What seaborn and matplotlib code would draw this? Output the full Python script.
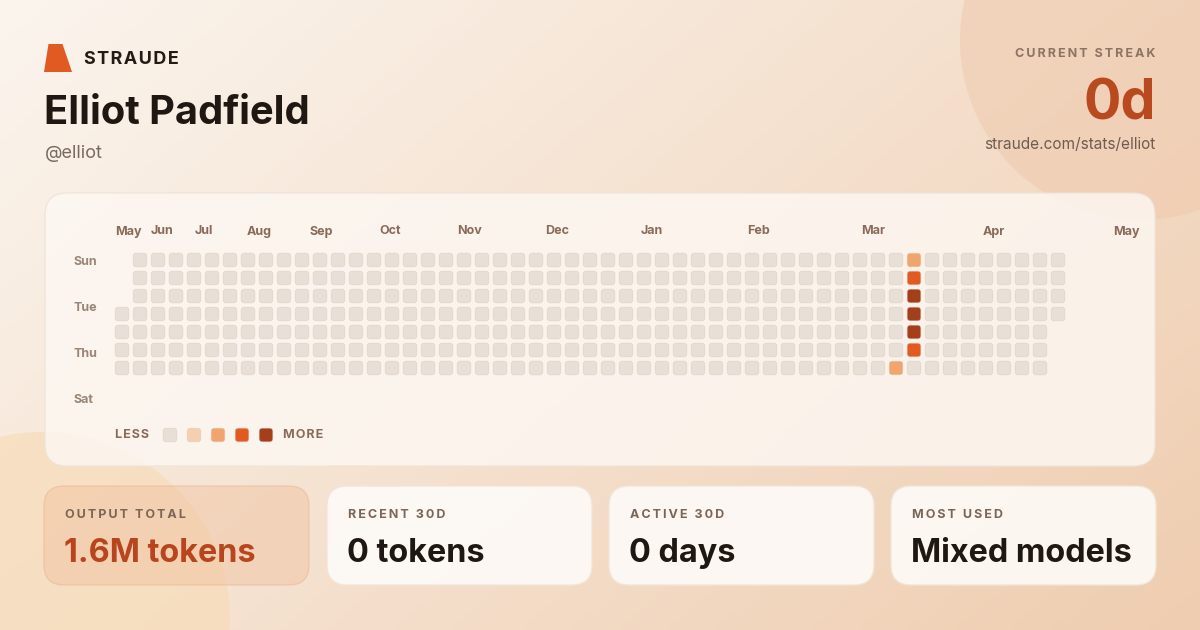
import numpy as np
import pandas as pd
import matplotlib.pyplot as plt
import seaborn as sns
from matplotlib.patches import FancyBboxPatch, Circle, Polygon, BoxStyle
from matplotlib.colors import to_rgb

# ============================================
# Data
# ============================================
n_weeks = 53
first_week_first_day = 3   # first column starts on Wed
last_week_last_day = 3     # last column ends on Wed

active_weeks = [43, 44, 44, 44, 44, 44, 44]
active_days = [6, 0, 1, 2, 3, 4, 5]
active_levels = [2, 2, 3, 4, 4, 4, 3]

level_colors = {0: "#E8E0D6", 1: "#F6CFB1", 2: "#F0A46E", 3: "#E05A22", 4: "#A53E1B"}
legend_levels = [0, 1, 2, 3, 4]

month_labels = ["May", "Jun", "Jul", "Aug", "Sep", "Oct", "Nov", "Dec",
                "Jan", "Feb", "Mar", "Apr", "May"]
day_labels = ["Sun", "Tue", "Thu", "Sat"]

user_name = "Elliot Padfield"
user_handle = "@elliot"
streak_days = 0
profile_url = "straude.com/stats/elliot"

card_labels = ["OUTPUT TOTAL", "RECENT 30D", "ACTIVE 30D", "MOST USED"]
card_values = ["1.6M tokens", "0 tokens", "0 days", "Mixed models"]

# layout (pixels)
month_label_px = [115, 151, 195, 247, 309, 379, 457, 545, 641, 747, 861, 983, 1113]
card_left_px = [44, 327, 609, 891]


def spaced(s, gap="\u2009"):
    return gap.join(s)


# ============================================
# Build cell table
# ============================================
rows = []
for w in range(n_weeks):
    for d in range(7):
        if w == 0 and d < first_week_first_day:
            continue
        if w == n_weeks - 1 and d > last_week_last_day:
            continue
        rows.append({"week": w, "day": d, "level": 0})
cells = pd.DataFrame(rows)
for w, d, lv in zip(active_weeks, active_days, active_levels):
    cells.loc[(cells.week == w) & (cells.day == d), "level"] = lv

# ============================================
# Figure
# ============================================
sns.set_style("white")
plt.rcParams["font.family"] = ["Inter", "DejaVu Sans"]

W, H = 1200, 630
fig = plt.figure(figsize=(12, 6.3), dpi=100)
bg = fig.add_axes([0, 0, 1, 1])
bg.set_xlim(0, W)
bg.set_ylim(H, 0)
bg.axis("off")

# gradient background
gx, gy = np.meshgrid(np.linspace(0, 1, 300), np.linspace(0, 1, 160))
t = np.clip(0.62 * gx + 0.38 * gy, 0, 1)[..., None]
c0 = np.array(to_rgb("#FBF5EE"))
c1 = np.array(to_rgb("#EFCDB0"))
bg.imshow(c0 * (1 - t) + c1 * t, extent=[0, W, H, 0], aspect="auto", zorder=0)

bg.add_patch(Circle((1140, 40), 180, facecolor="#EFC9AD", alpha=0.55, lw=0, zorder=1))
bg.add_patch(Circle((42, 620), 188, facecolor="#F7DCBA", alpha=0.7, lw=0, zorder=1))

# heatmap panel
bg.add_patch(FancyBboxPatch((45, 193), 1110, 273, boxstyle="round,pad=0,rounding_size=22",
                            facecolor="#FDF8F3", alpha=0.82, edgecolor="#EFE3D8", lw=1, zorder=2))

# stat cards
for i, x0 in enumerate(card_left_px):
    if i == 0:
        fc, ec, a = "#F0BE9A", "#EAAE88", 0.42
    else:
        fc, ec, a = "#FEFBF8", "#F2E4D8", 0.9
    bg.add_patch(FancyBboxPatch((x0, 486), 265, 99, boxstyle="round,pad=0,rounding_size=20",
                                facecolor=fc, alpha=a, edgecolor=ec, lw=1, zorder=2))
    bg.text(x0 + 21, 518, spaced(card_labels[i]), fontsize=9, fontweight="bold",
            color="#7A6556", va="baseline", zorder=3)
    bg.text(x0 + 20, 562, card_values[i], fontsize=23.3, fontweight="bold",
            color="#B8451E" if i == 0 else "#1E1712", va="baseline", zorder=3)

# header
bg.add_patch(Polygon([(44, 72), (72, 72), (62.5, 44), (48.5, 44)], closed=True,
                     facecolor="#E05A22", lw=0, zorder=3))
bg.text(84, 64, spaced("STRAUDE", "\u200a"), fontsize=13, fontweight="bold",
        color="#241B15", va="baseline", zorder=3)
bg.text(44, 124, user_name, fontsize=28.7, fontweight="bold", color="#1E1712",
        va="baseline", zorder=3)
bg.text(45, 158, user_handle, fontsize=13, color="#7A6A5E", va="baseline", zorder=3)

bg.text(1155, 57, spaced("CURRENT STREAK"), fontsize=9, fontweight="bold",
        color="#8C7363", ha="right", va="baseline", zorder=3)
bg.text(1156, 120, f"{streak_days}d", fontsize=40, fontweight="bold", color="#B94A1F",
        ha="right", va="baseline", zorder=3)
bg.text(1155, 149, profile_url, fontsize=11.1, color="#6E5D52", ha="right",
        va="baseline", zorder=3)

# month & day labels
for lab, px in zip(month_labels, month_label_px):
    bg.text(px, 234.5, lab, fontsize=9, fontweight="bold", color="#8A6A58",
            va="baseline", zorder=3)
for i, lab in enumerate(day_labels):
    bg.text(73, 262 + 46 * i, lab, fontsize=9, fontweight="bold", color="#9A8576",
            va="center", zorder=3)

# ============================================
# Heatmap cells
# ============================================
rounded = BoxStyle("Round", pad=0, rounding_size=0.22)(-0.5, -0.5, 1, 1, 1.0)

hax = fig.add_axes([113 / W, 1 - 377 / H, 954 / W, 126 / H])
hax.set_xlim(-0.5, n_weeks - 0.5)
hax.set_ylim(6.5, -0.5)
hax.axis("off")
hax.patch.set_alpha(0)
sns.scatterplot(data=cells, x="week", y="day", hue="level", palette=level_colors,
                hue_order=legend_levels, marker=rounded, s=98, edgecolor="#DDD2C6",
                linewidth=0.4, legend=False, ax=hax)

# legend swatches
leg = pd.DataFrame({"x": [170 + 24 * i for i in range(len(legend_levels))],
                    "y": [435] * len(legend_levels), "level": legend_levels})
sns.scatterplot(data=leg, x="x", y="y", hue="level", palette=level_colors,
                hue_order=legend_levels, marker=rounded, s=98, edgecolor="#DDD2C6",
                linewidth=0.4, legend=False, ax=bg, zorder=4)
bg.text(115, 435, spaced("LESS", "\u200a"), fontsize=9, fontweight="bold", color="#8A6A58",
        va="center", zorder=3)
bg.text(283, 435, spaced("MORE", "\u200a"), fontsize=9, fontweight="bold", color="#8A6A58",
        va="center", zorder=3)
bg.set_xlim(0, W)
bg.set_ylim(H, 0)
bg.axis("off")

fig.savefig("out.png", dpi=100)
